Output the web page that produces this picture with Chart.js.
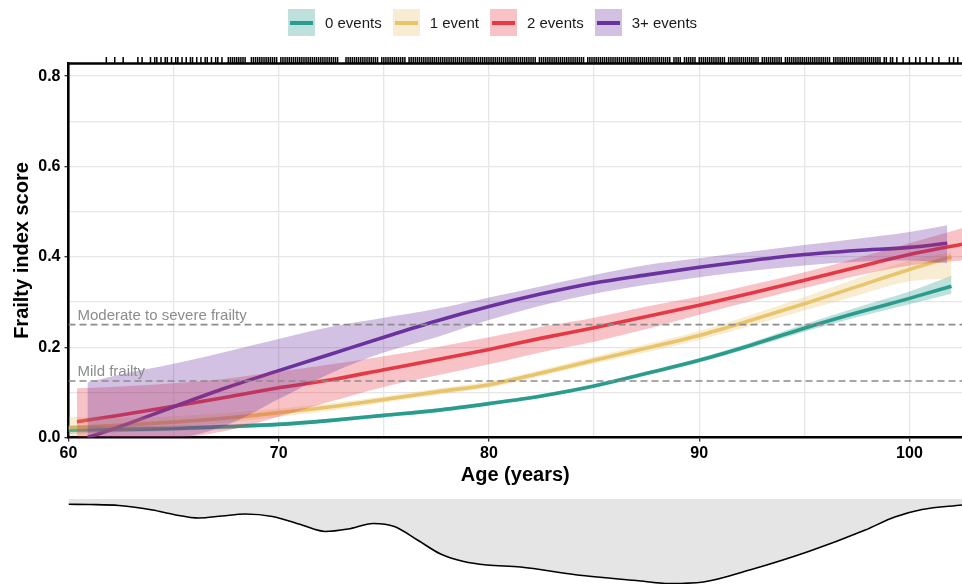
<!DOCTYPE html>
<html>
<head>
<meta charset="utf-8">
<script src="https://cdn.jsdelivr.net/npm/chart.js@4.4.1/dist/chart.umd.min.js"></script>
<style>
  html, body { margin: 0; padding: 0; background: #fff; }
  #wrap { position: relative; width: 962px; height: 584px; overflow: hidden;
          font-family: "Liberation Sans", Arial, sans-serif; }
  #main { position: absolute; left: 0; top: 0; }
  #dens { position: absolute; left: 0; top: 495px; }
  #legend { position: absolute; left: 288px; top: 9px; height: 27px;
            display: flex; align-items: center; }
  .item { display: flex; align-items: center; margin-right: 11px; }
  .key { width: 27px; height: 27px; position: relative; margin-right: 10px; }
  .key span { position: absolute; left: 2px; right: 2px; top: 11.5px; height: 4px; }
  .lab { font-size: 15px; color: #1a1a1a; white-space: nowrap; }
</style>
</head>
<body>
<div id="wrap">
  <canvas id="main" width="962" height="496"></canvas>
  <canvas id="dens" width="962" height="89"></canvas>
  <div id="legend"></div>
</div>
<script>
// ---- groups ----
const groupNames = ['0 events', '1 event', '2 events', '3+ events'];
const groupColors = ['#2a9d8f', '#e9c46a', '#e63946', '#6a329f'];

// ---- fitted frailty index by age, with confidence band ----
const ages0 = [60, 62.5, 65, 67.5, 70, 72.5, 75, 77.5, 80, 82.5, 85, 87.5, 90, 92.5, 95, 97.5, 100, 102];
const fit0  = [0.016, 0.018, 0.020, 0.024, 0.029, 0.038, 0.049, 0.060, 0.075, 0.092, 0.114, 0.142, 0.171, 0.205, 0.242, 0.276, 0.308, 0.335];
const lo0   = [0.008, 0.012, 0.015, 0.019, 0.025, 0.034, 0.045, 0.056, 0.071, 0.088, 0.110, 0.138, 0.166, 0.199, 0.234, 0.266, 0.295, 0.318];
const hi0   = [0.026, 0.025, 0.026, 0.029, 0.034, 0.042, 0.053, 0.064, 0.079, 0.096, 0.118, 0.146, 0.176, 0.211, 0.251, 0.288, 0.323, 0.358];

const ages1 = [60, 62.5, 65, 67.5, 70, 72.5, 75, 77.5, 80, 82.5, 85, 87.5, 90, 92.5, 95, 97.5, 100, 102];
const fit1  = [0.022, 0.027, 0.034, 0.043, 0.055, 0.068, 0.084, 0.101, 0.117, 0.143, 0.171, 0.198, 0.226, 0.260, 0.296, 0.334, 0.372, 0.400];
const lo1   = [0.002, 0.013, 0.022, 0.033, 0.046, 0.060, 0.077, 0.094, 0.110, 0.136, 0.163, 0.189, 0.216, 0.248, 0.281, 0.314, 0.346, 0.352];
const hi1   = [0.046, 0.043, 0.047, 0.054, 0.064, 0.076, 0.091, 0.108, 0.124, 0.150, 0.179, 0.207, 0.236, 0.272, 0.311, 0.352, 0.392, 0.410];

const ages2 = [60.4, 62.5, 65, 67.5, 70, 72.5, 75, 77.5, 80, 82.5, 85, 87.5, 90, 92.5, 95, 97.5, 100, 102.5];
const fit2  = [0.035, 0.050, 0.069, 0.089, 0.110, 0.128, 0.150, 0.172, 0.195, 0.220, 0.243, 0.268, 0.293, 0.320, 0.348, 0.377, 0.405, 0.428];
const lo2   = [0.000, 0.000, 0.000, 0.015, 0.046, 0.080, 0.112, 0.137, 0.162, 0.189, 0.212, 0.240, 0.272, 0.302, 0.331, 0.358, 0.381, 0.392];
const hi2   = [0.109, 0.113, 0.120, 0.130, 0.146, 0.162, 0.180, 0.200, 0.222, 0.245, 0.265, 0.290, 0.312, 0.338, 0.366, 0.397, 0.430, 0.463];

const ages3 = [60.9, 62.5, 65, 67.5, 70, 72.5, 75, 77.5, 80, 82.5, 85, 87.5, 90, 92.5, 95, 97.5, 100, 101.8];
const fit3  = [0.000, 0.025, 0.068, 0.110, 0.148, 0.185, 0.222, 0.258, 0.290, 0.318, 0.342, 0.360, 0.377, 0.392, 0.405, 0.414, 0.421, 0.430];
const lo3   = [0.000, 0.000, 0.000, 0.027, 0.085, 0.143, 0.188, 0.222, 0.260, 0.292, 0.318, 0.338, 0.355, 0.369, 0.381, 0.389, 0.392, 0.386];
const hi3   = [0.122, 0.140, 0.163, 0.190, 0.218, 0.245, 0.265, 0.285, 0.310, 0.335, 0.360, 0.382, 0.397, 0.412, 0.426, 0.440, 0.455, 0.470];

// ---- frailty thresholds ----
const thresholdValues = [0.125, 0.25];
const thresholdLabels = ['Mild frailty', 'Moderate to severe frailty'];

// ---- axes ----
const xGridValues = [60, 65, 70, 75, 80, 85, 90, 95, 100];
const xTickValues = [60, 70, 80, 90, 100];
const xTickLabels = ['60', '70', '80', '90', '100'];
const yGridValues = [0, 0.1, 0.2, 0.3, 0.4, 0.5, 0.6, 0.7, 0.8];
const yTickValues = [0, 0.2, 0.4, 0.6, 0.8];
const yTickLabels = ['0.0', '0.2', '0.4', '0.6', '0.8'];

// ---- individual ages (rug along the top) ----
const rugAges = [
  61.8, 62.2, 62.6, 63.3, 63.5, 63.9, 64.1, 64.2, 64.4, 64.6, 64.7, 64.9,
  65.1, 65.2, 65.4, 65.6, 65.8, 65.9, 66.1, 66.3, 66.5, 66.6, 66.8, 67.0, 67.1, 67.3,
  67.6, 67.7, 67.8, 67.9, 68.0, 68.1, 68.2, 68.3, 68.4, 68.7, 68.8, 68.9,
  69.0, 69.1, 69.2, 69.3, 69.4, 69.5, 69.6, 69.7, 69.8, 69.9,
  70.1, 70.2, 70.3, 70.4, 70.5, 70.6, 70.7, 70.8, 70.9,
  71.0, 71.1, 71.2, 71.3, 71.4, 71.5, 71.6, 71.7, 71.8, 71.9,
  72.0, 72.1, 72.2, 72.3, 72.4, 72.5, 72.6, 72.7, 72.8,
  73.2, 73.3, 73.4, 73.5, 73.6, 73.7, 73.8, 73.9,
  74.0, 74.1, 74.2, 74.3, 74.4, 74.5, 74.6, 74.7, 74.9,
  75.0, 75.1, 75.2, 75.3, 75.4, 75.5, 75.6, 75.7, 75.8, 75.9,
  76.0, 76.2, 76.3, 76.4, 76.5, 76.6, 76.7, 76.8, 76.9,
  77.0, 77.1, 77.2, 77.3, 77.4, 77.5, 77.6, 77.7, 77.8, 77.9,
  78.0, 78.1, 78.2, 78.3, 78.4, 78.5, 78.6, 78.7, 78.8, 78.9,
  79.0, 79.1, 79.2, 79.3, 79.4, 79.5, 79.6, 79.7, 79.8, 79.9,
  80.0, 80.1, 80.2, 80.3, 80.4, 80.5, 80.6, 80.7, 80.8, 80.9,
  81.0, 81.1, 81.2, 81.3, 81.4, 81.5, 81.6, 81.7, 81.8, 81.9,
  82.0, 82.1, 82.2, 82.4, 82.5, 82.6, 82.7, 82.8, 82.9,
  83.0, 83.1, 83.2, 83.3, 83.4, 83.5, 83.6, 83.7, 83.8, 83.9,
  84.0, 84.1, 84.2, 84.3, 84.4, 84.5, 84.7, 84.8, 84.9,
  85.0, 85.1, 85.2, 85.3, 85.4, 85.5, 85.6, 85.7, 85.8, 85.9,
  86.0, 86.1, 86.2, 86.3, 86.4, 86.5, 86.6, 86.7, 86.8, 86.9,
  87.0, 87.1, 87.2, 87.3, 87.4, 87.5, 87.6, 87.7, 87.8, 87.9,
  88.0, 88.1, 88.2, 88.3, 88.4, 88.5, 88.6, 88.8, 88.9,
  89.0, 89.1, 89.3, 89.4, 89.5, 89.6, 89.7, 89.8,
  90.0, 90.1, 90.2, 90.3, 90.4, 90.5, 90.6, 90.7, 90.8, 90.9,
  91.0, 91.1, 91.2, 91.4, 91.5, 91.6, 91.7, 91.8, 91.9,
  92.0, 92.1, 92.2, 92.3, 92.4, 92.5, 92.6, 92.7, 92.8,
  93.0, 93.1, 93.2, 93.3, 93.4, 93.5, 93.6, 93.7, 93.8, 93.9,
  94.1, 94.2, 94.3, 94.4, 94.5, 94.6, 94.7, 94.8, 94.9,
  95.0, 95.1, 95.2, 95.3, 95.4, 95.5, 95.6, 95.7, 95.8, 95.9,
  96.0, 96.1, 96.2, 96.4, 96.5, 96.6, 96.7, 96.8, 96.9,
  97.0, 97.1, 97.2, 97.3, 97.4, 97.5, 97.6, 97.7, 97.8, 97.9,
  98.0, 98.1, 98.2, 98.3, 98.4, 98.5, 98.6, 98.8, 98.9,
  99.1, 99.2, 99.4, 99.7, 100.0, 100.3, 100.5, 100.8, 101.1, 101.4, 101.9, 102.1, 102.3
];

// ---- age distribution (density, drawn hanging below the axis) ----
const densAges = [60.0, 61.0, 62.4, 64.0, 65.0, 66.2, 67.3, 68.4, 69.7, 71.1, 72.2, 73.3, 74.5, 75.5, 76.6,
                  77.7, 78.8, 79.9, 81.5, 84.2, 87.0, 88.6, 90.2, 92.4, 95.2, 97.9, 99.3, 100.6, 102.5];
const densVals = [0.00265, 0.00275, 0.00325, 0.0055, 0.00775, 0.0095, 0.0085, 0.0075, 0.00875, 0.013, 0.01625,
                  0.015, 0.01225, 0.01375, 0.0205, 0.0275, 0.03125, 0.033, 0.034, 0.038, 0.04075, 0.04225,
                  0.0415, 0.0355, 0.02625, 0.0155, 0.009, 0.00525, 0.003];

const X_MIN = 60, X_MAX = 102.5, Y_MIN = 0, Y_MAX = 0.828;

// ---------------------------------------------------------------
const FONT = '"Liberation Sans", Arial, Helvetica, sans-serif';
Chart.defaults.font.family = FONT;

function pts(xs, ys) { return xs.map((x, i) => ({ x: x, y: ys[i] })); }
function tint(hex, a) {
  const n = parseInt(hex.slice(1), 16);
  return 'rgba(' + (n >> 16) + ',' + ((n >> 8) & 255) + ',' + (n & 255) + ',' + a + ')';
}

const series = [
  { ages: ages0, fit: fit0, lo: lo0, hi: hi0 },
  { ages: ages1, fit: fit1, lo: lo1, hi: hi1 },
  { ages: ages2, fit: fit2, lo: lo2, hi: hi2 },
  { ages: ages3, fit: fit3, lo: lo3, hi: hi3 }
];

// legend
const legendEl = document.getElementById('legend');
groupNames.forEach((name, g) => {
  const item = document.createElement('div');
  item.className = 'item';
  const key = document.createElement('div');
  key.className = 'key';
  key.style.background = tint(groupColors[g], 0.3);
  const bar = document.createElement('span');
  bar.style.background = groupColors[g];
  key.appendChild(bar);
  const lab = document.createElement('div');
  lab.className = 'lab';
  lab.textContent = name;
  item.appendChild(key);
  item.appendChild(lab);
  legendEl.appendChild(item);
});

// datasets: fitted lines, then bands drawn over them, dashed thresholds on top
const datasets = [];
series.forEach((s, g) => {
  datasets.push({
    label: groupNames[g],
    data: pts(s.ages, s.fit),
    borderColor: groupColors[g],
    borderWidth: 3.6,
    pointRadius: 0,
    fill: false,
    cubicInterpolationMode: 'monotone',
    order: 30 - g
  });
});
series.forEach((s, g) => {
  const lowerIndex = datasets.length;
  datasets.push({
    label: groupNames[g] + ' lower',
    data: pts(s.ages, s.lo),
    borderWidth: 0,
    borderColor: 'rgba(0,0,0,0)',
    pointRadius: 0,
    fill: false,
    cubicInterpolationMode: 'monotone',
    order: 20 - g
  });
  datasets.push({
    label: groupNames[g] + ' upper',
    data: pts(s.ages, s.hi),
    borderWidth: 0,
    borderColor: 'rgba(0,0,0,0)',
    backgroundColor: tint(groupColors[g], 0.3),
    pointRadius: 0,
    fill: lowerIndex,
    cubicInterpolationMode: 'monotone',
    order: 20 - g
  });
});
thresholdValues.forEach((t, i) => {
  datasets.push({
    label: thresholdLabels[i],
    data: [{ x: X_MIN, y: t }, { x: X_MAX, y: t }],
    borderColor: '#8c8c8c',
    borderWidth: 1.6,
    borderDash: [7, 4],
    pointRadius: 0,
    fill: false,
    order: 1
  });
});

// top frame line and the rug of ages above it
const frameAndRug = {
  id: 'frameAndRug',
  afterDraw(chart) {
    const { ctx, chartArea, scales } = chart;
    ctx.save();
    ctx.strokeStyle = '#000';
    ctx.lineWidth = 2.6;
    ctx.beginPath();
    ctx.moveTo(chartArea.left - 1.3, chartArea.top);
    ctx.lineTo(chartArea.right, chartArea.top);
    ctx.stroke();
    ctx.lineWidth = 1.5;
    ctx.beginPath();
    rugAges.forEach(a => {
      const x = scales.x.getPixelForValue(a);
      ctx.moveTo(x, chartArea.top - 6.5);
      ctx.lineTo(x, chartArea.top);
    });
    ctx.stroke();
    ctx.restore();
  }
};

// threshold captions
const thresholdText = {
  id: 'thresholdText',
  afterDatasetsDraw(chart) {
    const { ctx, chartArea, scales } = chart;
    ctx.save();
    ctx.font = '15px ' + FONT;
    ctx.fillStyle = '#8c8c8c';
    ctx.textAlign = 'left';
    ctx.textBaseline = 'alphabetic';
    thresholdValues.forEach((t, i) => {
      ctx.fillText(thresholdLabels[i], chartArea.left + 9, scales.y.getPixelForValue(t) - 5);
    });
    ctx.restore();
  }
};

new Chart(document.getElementById('main'), {
  type: 'line',
  data: { datasets: datasets },
  options: {
    responsive: false,
    animation: false,
    devicePixelRatio: 1,
    layout: { padding: { top: 63.5, right: 0, bottom: 0, left: 0 } },
    plugins: { legend: { display: false }, tooltip: { enabled: false } },
    scales: {
      x: {
        type: 'linear',
        min: X_MIN,
        max: X_MAX,
        afterBuildTicks: axis => { axis.ticks = xGridValues.map(v => ({ value: v })); },
        afterFit: axis => { axis.height = 58.5; },
        ticks: {
          autoSkip: false,
          maxRotation: 0,
          padding: 2,
          color: '#000',
          font: { size: 16, weight: 'bold' },
          callback: v => { const i = xTickValues.indexOf(v); return i >= 0 ? xTickLabels[i] : ''; }
        },
        grid: {
          color: '#e6e6e6',
          lineWidth: 1.3,
          tickLength: 4,
          tickWidth: 1.3,
          tickColor: c => (c.tick && xTickValues.indexOf(c.tick.value) >= 0) ? '#333' : 'rgba(0,0,0,0)'
        },
        border: { display: true, color: '#000', width: 2.6 },
        title: {
          display: true,
          text: 'Age (years)',
          color: '#000',
          font: { size: 20, weight: 'bold' },
          padding: { top: 0, bottom: 9 }
        }
      },
      y: {
        type: 'linear',
        min: Y_MIN,
        max: Y_MAX,
        afterBuildTicks: axis => { axis.ticks = yGridValues.map(v => ({ value: v })); },
        afterFit: axis => { axis.width = 68.5; },
        ticks: {
          autoSkip: false,
          padding: 4,
          color: '#000',
          font: { size: 16, weight: 'bold' },
          callback: v => { const i = yTickValues.indexOf(v); return i >= 0 ? yTickLabels[i] : ''; }
        },
        grid: {
          color: '#e6e6e6',
          lineWidth: 1.3,
          tickLength: 4,
          tickWidth: 1.3,
          tickColor: c => (c.tick && yTickValues.indexOf(c.tick.value) >= 0) ? '#333' : 'rgba(0,0,0,0)'
        },
        border: { display: true, color: '#000', width: 2.6 },
        title: {
          display: true,
          text: 'Frailty index score',
          color: '#000',
          font: { size: 20, weight: 'bold' },
          padding: { top: 10, bottom: 0 }
        }
      }
    }
  },
  plugins: [frameAndRug, thresholdText]
});

// age distribution hanging beneath the axis
new Chart(document.getElementById('dens'), {
  type: 'line',
  data: {
    datasets: [{
      label: 'Age distribution',
      data: pts(densAges, densVals),
      borderColor: '#000',
      borderWidth: 1.6,
      backgroundColor: '#e5e5e5',
      fill: 'origin',
      pointRadius: 0,
      cubicInterpolationMode: 'monotone'
    }]
  },
  options: {
    responsive: false,
    animation: false,
    devicePixelRatio: 1,
    layout: { padding: { top: 4, right: 0, bottom: 0, left: 68.5 } },
    plugins: { legend: { display: false }, tooltip: { enabled: false } },
    scales: {
      x: { type: 'linear', min: X_MIN, max: X_MAX, display: false },
      y: { min: 0, max: 0.0425, reverse: true, display: false }
    }
  }
});
</script>
</body>
</html>
